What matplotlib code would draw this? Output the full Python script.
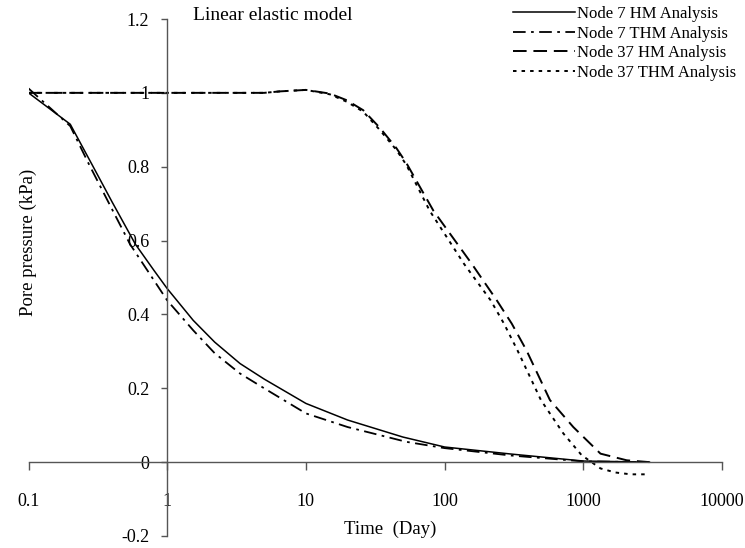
import matplotlib
matplotlib.use("Agg")
import matplotlib.pyplot as plt
from matplotlib.ticker import FixedLocator, FixedFormatter

plt.rcParams['font.family'] = ['Liberation Serif', 'DejaVu Serif']

# Node 7 HM analysis (solid)
n7_hm_x = [0.1, 0.2, 0.285, 0.4, 0.59, 0.8, 1.0, 1.54, 2.2, 3.35, 5.0, 10, 20, 50, 100, 300, 1000, 3000]
n7_hm_y = [1.0, 0.915, 0.808, 0.705, 0.59, 0.52, 0.47, 0.384, 0.325, 0.267, 0.225, 0.159, 0.114, 0.068, 0.041, 0.022, 0.003, 0.0]

# Node 7 THM analysis (dash-dot)
n7_thm_x = [0.1, 0.2, 0.27, 0.4, 0.54, 1.0, 1.54, 2.2, 3.35, 5.0, 10, 20, 53, 100, 300, 1000, 3000]
n7_thm_y = [1.012, 0.91, 0.81, 0.685, 0.59, 0.438, 0.357, 0.295, 0.24, 0.2, 0.132, 0.095, 0.055, 0.038, 0.018, 0.002, 0.0]

# Node 37 HM analysis (dashed)
n37_hm_x = [0.1, 5.0, 6.5, 10, 14.9, 19.7, 25.9, 34.2, 45, 53, 83, 157, 238, 305, 389, 575, 847, 1330, 2056, 3000]
n37_hm_y = [1.0, 1.0, 1.004, 1.008, 0.998, 0.98, 0.953, 0.905, 0.85, 0.81, 0.681, 0.537, 0.438, 0.375, 0.303, 0.168, 0.095, 0.023, 0.005, 0.0]

# Node 37 THM analysis (dotted)
n37_thm_x = [0.1, 5.0, 6.5, 10, 14.9, 19.7, 25.9, 34.2, 45, 53, 78, 138, 215, 268, 335, 495, 717, 972, 1330, 1700, 2200, 3000]
n37_thm_y = [1.0, 1.0, 1.004, 1.008, 0.996, 0.976, 0.949, 0.899, 0.845, 0.805, 0.681, 0.537, 0.438, 0.375, 0.303, 0.168, 0.078, 0.019, -0.017, -0.028, -0.033, -0.033]

x_ticks = [0.1, 1, 10, 100, 1000, 10000]
x_tick_labels = ['0.1', '1', '10', '100', '1000', '10000']
y_ticks = [-0.2, 0, 0.2, 0.4, 0.6, 0.8, 1.0, 1.2]
y_tick_labels = ['-0.2', '0', '0.2', '0.4', '0.6', '0.8', '1', '1.2']

W, H = 745, 548
fig = plt.figure(figsize=(W / 100, H / 100), dpi=100)
ax = fig.add_axes([28.5 / W, 1 - 536 / H, (722 - 28.5) / W, (536 - 19) / H])

ax.plot(n7_hm_x, n7_hm_y, color='black', lw=1.1, ls='-', label='Node 7 HM Analysis')
ax.plot(n7_thm_x, n7_thm_y, color='black', lw=1.3, ls=(0, (7, 3, 1.5, 3)), label='Node 7 THM Analysis')
ax.plot(n37_hm_x, n37_hm_y, color='black', lw=1.4, ls=(0, (7, 3.5)), label='Node 37 HM Analysis')
ax.plot(n37_thm_x, n37_thm_y, color='black', lw=1.4, ls=(0, (1.8, 2.6)), label='Node 37 THM Analysis')

ax.set_xscale('log')
ax.set_xlim(0.1, 10000)
ax.set_ylim(-0.2, 1.2)

ax.xaxis.set_major_locator(FixedLocator(x_ticks))
ax.xaxis.set_major_formatter(FixedFormatter(x_tick_labels))
ax.xaxis.set_minor_locator(FixedLocator([]))
ax.yaxis.set_major_locator(FixedLocator(y_ticks))
ax.yaxis.set_major_formatter(FixedFormatter(y_tick_labels))

for s in ['top', 'right']:
    ax.spines[s].set_visible(False)
ax.spines['left'].set_position(('data', 1))
ax.spines['bottom'].set_position(('data', 0))
for s in ['left', 'bottom']:
    ax.spines[s].set_color('#555555')
    ax.spines[s].set_linewidth(1.0)

ax.tick_params(axis='x', direction='out', length=6, width=1, color='#555555',
               labelsize=13, pad=16)
ax.tick_params(axis='y', direction='out', length=4, width=1, color='#555555',
               labelsize=13, pad=9)
ax.patch.set_visible(False)

fig.text(28 / W, 1 - 242 / H, 'Pore pressure (kPa)', rotation=90, ha='center', va='center', fontsize=13.5)
fig.text(390 / W, 1 - 529 / H, 'Time  (Day)', ha='center', va='center', fontsize=13.5)
fig.text(193 / W, 1 - 16 / H, 'Linear elastic model', ha='left', va='center', fontsize=14)

leg = fig.legend(loc='upper left', bbox_to_anchor=(513 / W, 1 - 6 / H), frameon=False,
                 fontsize=12, handlelength=3.7, handletextpad=0.15, labelspacing=0.22,
                 borderpad=0, borderaxespad=0)

fig.savefig('out.png', dpi=100)
